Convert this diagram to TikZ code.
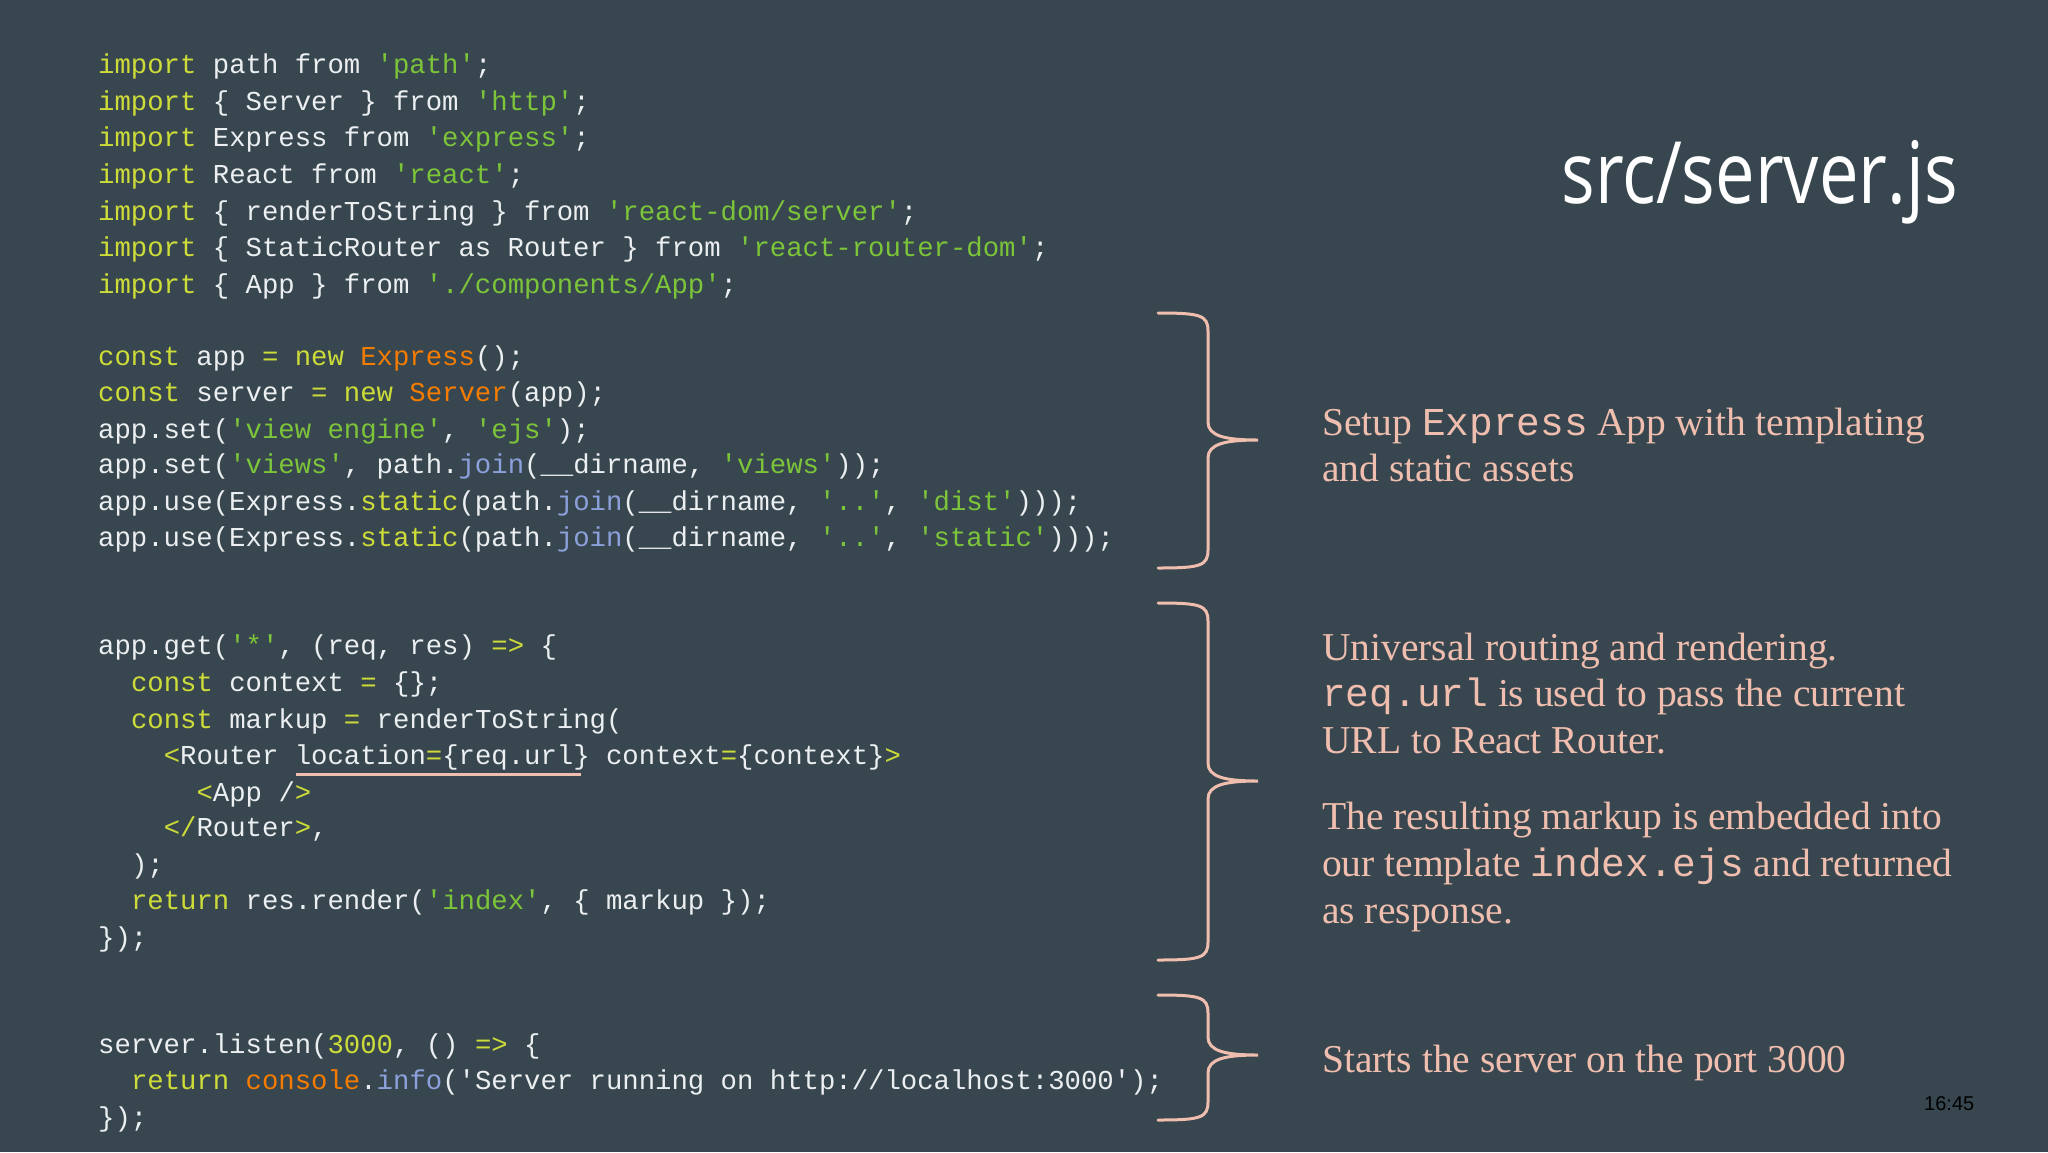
\documentclass[tikz,border=0pt]{standalone}
\usepackage{fontspec}
\newfontfamily\code{Liberation Mono}
\newfontfamily\note{Liberation Serif}
\newfontfamily\titlef{Open Sans}
\newfontfamily\stamp{Liberation Sans}
\definecolor{bg}{RGB}{56,71,79}
\definecolor{fg}{RGB}{236,239,241}
\definecolor{kw}{RGB}{205,220,57}
\definecolor{st}{RGB}{124,196,58}
\definecolor{og}{RGB}{245,124,0}
\definecolor{bl}{RGB}{140,160,220}
\definecolor{pk}{RGB}{240,190,175}
\newcommand{\kw}[1]{\textcolor{kw}{#1}}
\newcommand{\str}[1]{\textcolor{st}{#1}}
\newcommand{\org}[1]{\textcolor{og}{#1}}
\newcommand{\blu}[1]{\textcolor{bl}{#1}}
\begin{document}
\begin{tikzpicture}[x=1pt,y=-1pt,
  cl/.style={anchor=base west,inner sep=0pt,text=fg,font=\code\fontsize{27.3}{30}\selectfont},
  nt/.style={anchor=base west,inner sep=0pt,text=pk,font=\note\fontsize{39.5}{47}\selectfont},
  brace/.style={draw=pk,line width=3pt,line cap=round}]
\fill[bg] (0,0) rectangle (2048,1152);
\useasboundingbox (0,0) rectangle (2048,1152);
\def\cw{16.4}
\node[cl] (l1) at (98,73) {\kw{import} path from \str{'path'};};
\node[cl] (l2) at (98,110) {\kw{import} \{ Server \} from \str{'http'};};
\node[cl] (l3) at (98,146) {\kw{import} Express from \str{'express'};};
\node[cl] (l4) at (98,183) {\kw{import} React from \str{'react'};};
\node[cl] (l5) at (98,220) {\kw{import} \{ renderToString \} from \str{'react-dom/server'};};
\node[cl] (l6) at (98,256) {\kw{import} \{ StaticRouter as Router \} from \str{'react-router-dom'};};
\node[cl] (l7) at (98,293) {\kw{import} \{ App \} from \str{'./components/App'};};
\node[cl] (l8) at (98,365) {\kw{const} app \kw{=} \kw{new} \org{Express}();};
\node[cl] (l9) at (98,401) {\kw{const} server \kw{=} \kw{new} \org{Server}(app);};
\node[cl] (l10) at (98,438) {app.set(\str{'view engine'}, \str{'ejs'});};
\node[cl] (l11) at (98,473) {app.set(\str{'views'}, path.\blu{join}(\_\_dirname, \str{'views'}));};
\node[cl] (l12) at (98,510) {app.use(Express.\kw{static}(path.\blu{join}(\_\_dirname, \str{'..'}, \str{'dist'})));};
\node[cl] (l13) at (98,546) {app.use(Express.\kw{static}(path.\blu{join}(\_\_dirname, \str{'..'}, \str{'static'})));};
\node[cl] (l14) at (98,654) {app.get(\str{'*'}, (req, res) \kw{=>} \{};
\node[cl] (l15) at (98+2*\cw,691) {\kw{const} context \kw{=} \{\};};
\node[cl] (l16) at (98+2*\cw,728) {\kw{const} markup \kw{=} renderToString(};
\node[cl] (l17) at (98+4*\cw,764) {\kw{<}Router location\kw{=}\{req.url\} context\kw{=}\{context\}\kw{>}};
\node[cl] (l18) at (98+6*\cw,801) {\kw{<}App /\kw{>}};
\node[cl] (l19) at (98+4*\cw,836) {\kw{</}Router\kw{>},};
\node[cl] (l20) at (98+2*\cw,873) {);};
\node[cl] (l21) at (98+2*\cw,909) {\kw{return} res.render(\str{'index'}, \{ markup \});};
\node[cl] (l22) at (98,946) {\});};
\node[cl] (l23) at (98,1053) {server.listen(\kw{3000}, () \kw{=>} \{};
\node[cl] (l24) at (98+2*\cw,1089) {\kw{return} \org{console}.\blu{info}('Server running on http://localhost:3000');};
\node[cl] (l25) at (98,1126) {\});};
\coordinate (u1) at (296,774); \coordinate (u2) at (581,774);
\draw[draw=pk,line width=3pt] (u1) -- (u2);
\node[anchor=base east,inner sep=0pt,text=white,font=\titlef\fontsize{86}{90}\selectfont,xscale=0.82] (title) at (1958,203) {src/server.js};
% braces
\foreach \t/\m/\b [count=\i] in {313/440/568, 603/781/960, 995/1055/1120}{
  \coordinate (bt\i) at (1158,\t); \coordinate (bm\i) at (1258,\m); \coordinate (bb\i) at (1158,\b);
  \draw[brace] (bt\i) .. controls (1200,\t) and (1208,\t+2) .. (1208,\t+18)
     -- (1208,\m-18) .. controls (1208,\m-4) and (1225,\m) .. (bm\i)
     .. controls (1225,\m) and (1208,\m+4) .. (1208,\m+18)
     -- (1208,\b-18) .. controls (1208,\b-2) and (1200,\b) .. (bb\i);
}
\node[nt] (n1) at (1322,435) {Setup {\code Express} App with templating};
\node[nt] (n2) at (1322,481) {and static assets};
\node[nt] (n3) at (1322,660) {Universal routing and rendering.};
\node[nt] (n4) at (1322,706) {{\code req.url} is used to pass the current};
\node[nt] (n5) at (1322,753) {URL to React Router.};
\node[nt] (n6) at (1322,829) {The resulting markup is embedded into};
\node[nt] (n7) at (1322,876) {our template {\code index.ejs} and returned};
\node[nt] (n8) at (1322,923) {as response.};
\node[nt] (n9) at (1322,1072) {Starts the server on the port 3000};
\node[anchor=base west,inner sep=0pt,font=\stamp\fontsize{20}{24}\selectfont,text=black] (ts) at (1924,1110) {16:45};
\end{tikzpicture}
\end{document}
